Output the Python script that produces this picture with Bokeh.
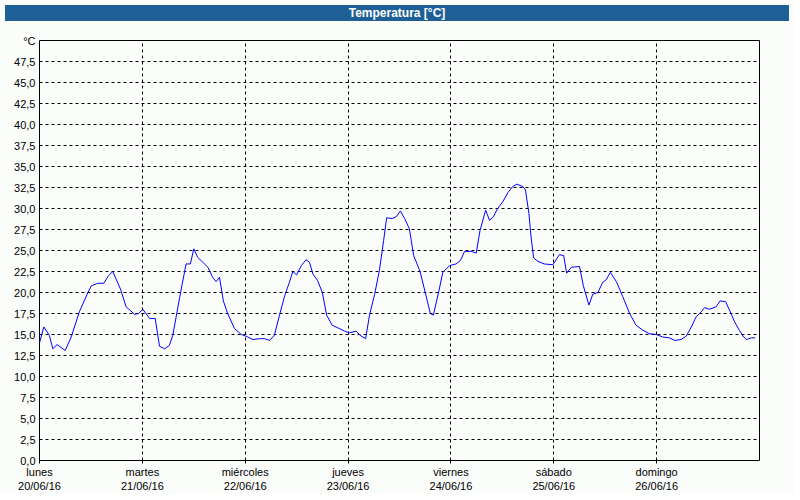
from bokeh.plotting import figure
from bokeh.models import Div, FixedTicker, Range1d
from bokeh.layouts import column
from bokeh.embed import file_html
from bokeh.resources import INLINE

# time in hours since lunes 20/06/16 00:00, temperature in °C
hours = [0.0, 1.0, 2.3, 3.1, 4.1, 6.0, 7.4, 9.3, 11.3, 12.1, 13.6, 15.0, 16.1, 17.1,
         18.9, 20.2, 22.2, 23.1, 24.1, 25.7, 27.0, 28.0, 29.2, 30.3, 31.1, 32.7,
         34.2, 35.2, 36.0, 36.9, 38.5, 39.3, 40.4, 41.2, 42.0, 42.9, 43.9, 45.5,
         47.1, 48.2, 49.8, 51.3, 52.5, 53.7, 54.8, 56.0, 57.2, 58.3, 59.1, 60.0,
         61.1, 62.2, 63.0, 63.8, 64.9, 66.0, 67.0, 68.3, 69.6, 71.2, 72.3, 73.9,
         74.8, 76.1, 77.0, 78.2, 79.3, 80.3, 81.0, 82.3, 83.2, 84.2, 85.2, 86.3,
         87.3, 88.8, 90.1, 91.2, 91.9, 93.2, 94.1, 95.7, 97.2, 98.2, 99.2, 100.7,
         101.9, 102.8, 104.1, 105.0, 105.9, 106.9, 108.1, 109.3, 110.4, 111.4,
         112.8, 113.4, 114.2, 114.7, 115.3, 116.3, 117.8, 119.8, 121.3, 122.3,
         123.0, 124.1, 126.0, 126.9, 128.2, 129.1, 130.3, 131.4, 132.2, 133.2,
         134.6, 136.1, 137.7, 139.2, 140.8, 142.3, 143.9, 145.4, 147.0, 148.2,
         149.7, 150.9, 152.1, 153.2, 154.4, 155.2, 156.3, 157.9, 158.8, 160.1,
         161.0, 162.2, 163.3, 164.3, 165.0, 166.1, 167.0]
temps = [14.0, 15.9, 14.9, 13.3, 13.8, 13.1, 14.7, 17.7, 20.0, 20.8, 21.1, 21.1, 22.0, 22.5,
         20.4, 18.3, 17.4, 17.5, 18.0, 16.9, 16.9, 13.6, 13.3, 13.7, 14.9, 19.4,
         23.4, 23.4, 25.2, 24.2, 23.4, 23.0, 21.8, 21.3, 21.8, 19.0, 17.5, 15.7,
         15.0, 14.8, 14.4, 14.5, 14.5, 14.3, 14.9, 17.3, 19.6, 21.2, 22.5, 22.1,
         23.2, 23.9, 23.6, 22.2, 21.4, 20.0, 17.3, 16.1, 15.8, 15.4, 15.2, 15.4,
         14.9, 14.5, 17.3, 19.8, 22.6, 26.2, 28.9, 28.8, 29.0, 29.7, 28.8, 27.6,
         24.4, 22.5, 19.8, 17.5, 17.3, 20.2, 22.4, 23.2, 23.4, 23.8, 24.9, 24.9,
         24.7, 27.4, 29.8, 28.6, 29.0, 30.0, 30.8, 31.9, 32.6, 32.9,
         32.6, 32.2, 29.4, 26.6, 24.1, 23.7, 23.4, 23.3, 24.5, 24.4,
         22.3, 23.0, 23.1, 20.8, 18.5, 19.8, 20.0, 21.2, 21.5, 22.4,
         21.3, 19.5, 17.5, 16.1, 15.5, 15.1, 15.0, 14.7, 14.6, 14.3,
         14.4, 14.8, 15.9, 17.1, 17.7, 18.2, 18.0, 18.3, 19.0, 18.9,
         17.9, 16.5, 15.5, 14.7, 14.4, 14.6, 14.6]

day_names = ["lunes", "martes", "miércoles", "jueves", "viernes", "sábado", "domingo"]
day_dates = ["20/06/16", "21/06/16", "22/06/16", "23/06/16", "24/06/16", "25/06/16", "26/06/16"]
day_ticks = [0, 24, 48, 72, 96, 120, 144]
y_ticks = [0.0, 2.5, 5.0, 7.5, 10.0, 12.5, 15.0, 17.5, 20.0, 22.5, 25.0, 27.5,
           30.0, 32.5, 35.0, 37.5, 40.0, 42.5, 45.0, 47.5]
y_top = 50.0
title_text = "Temperatura [°C]"
unit_text = "°C"

BG = "#fbfdfb"
FONT = "Liberation Sans"

bar = Div(text=title_text, width=784, height=16,
          styles={"background-color": "#1e6096", "color": "white", "font-weight": "bold",
                  "font-family": FONT, "font-size": "12px", "text-align": "center",
                  "line-height": "16px", "overflow": "hidden"})

p = figure(width=784, height=468, x_range=Range1d(0, 168), y_range=Range1d(0, y_top),
           output_backend="svg", toolbar_location=None,
           min_border_left=39, min_border_right=25, min_border_top=14, min_border_bottom=28)
p.background_fill_color = BG
p.border_fill_color = BG
p.outline_line_color = "black"
p.outline_line_width = 1
p.outline_line_alpha = 1

p.line(hours, temps, line_color="#0000ff", line_width=1)

# axes
p.xaxis.ticker = FixedTicker(ticks=day_ticks)
p.xaxis.major_label_overrides = {t: f"{n}\n{d}" for t, n, d in zip(day_ticks, day_names, day_dates)}
p.xaxis.axis_line_color = None
p.xaxis.major_tick_out = 3
p.xaxis.major_tick_in = 0
p.xaxis.major_tick_line_color = "black"
p.xaxis.minor_tick_line_color = None
p.xaxis.major_label_standoff = 2
p.xaxis.major_label_text_font = FONT
p.xaxis.major_label_text_font_size = "11px"
p.xaxis.major_label_text_color = "black"

y_labels = {v: f"{v:.1f}".replace(".", ",") for v in y_ticks}
y_labels[y_top] = unit_text
p.yaxis.ticker = FixedTicker(ticks=y_ticks + [y_top])
p.yaxis.major_label_overrides = y_labels
p.yaxis.axis_line_color = None
p.yaxis.major_tick_out = 0
p.yaxis.major_tick_in = 0
p.yaxis.minor_tick_line_color = None
p.yaxis.major_label_standoff = 4
p.yaxis.major_label_text_font = FONT
p.yaxis.major_label_text_font_size = "11px"
p.yaxis.major_label_text_color = "black"

p.xgrid.ticker = FixedTicker(ticks=day_ticks[1:])
p.ygrid.ticker = FixedTicker(ticks=y_ticks[1:])
for g in (p.xgrid, p.ygrid):
    g.grid_line_color = "black"
    g.grid_line_dash = "3 3"
    g.grid_line_width = 1
    g.grid_line_alpha = 1

layout = column(bar, p, spacing=0, styles={"background-color": BG})
open("out.html", "w").write(file_html(layout, INLINE))
